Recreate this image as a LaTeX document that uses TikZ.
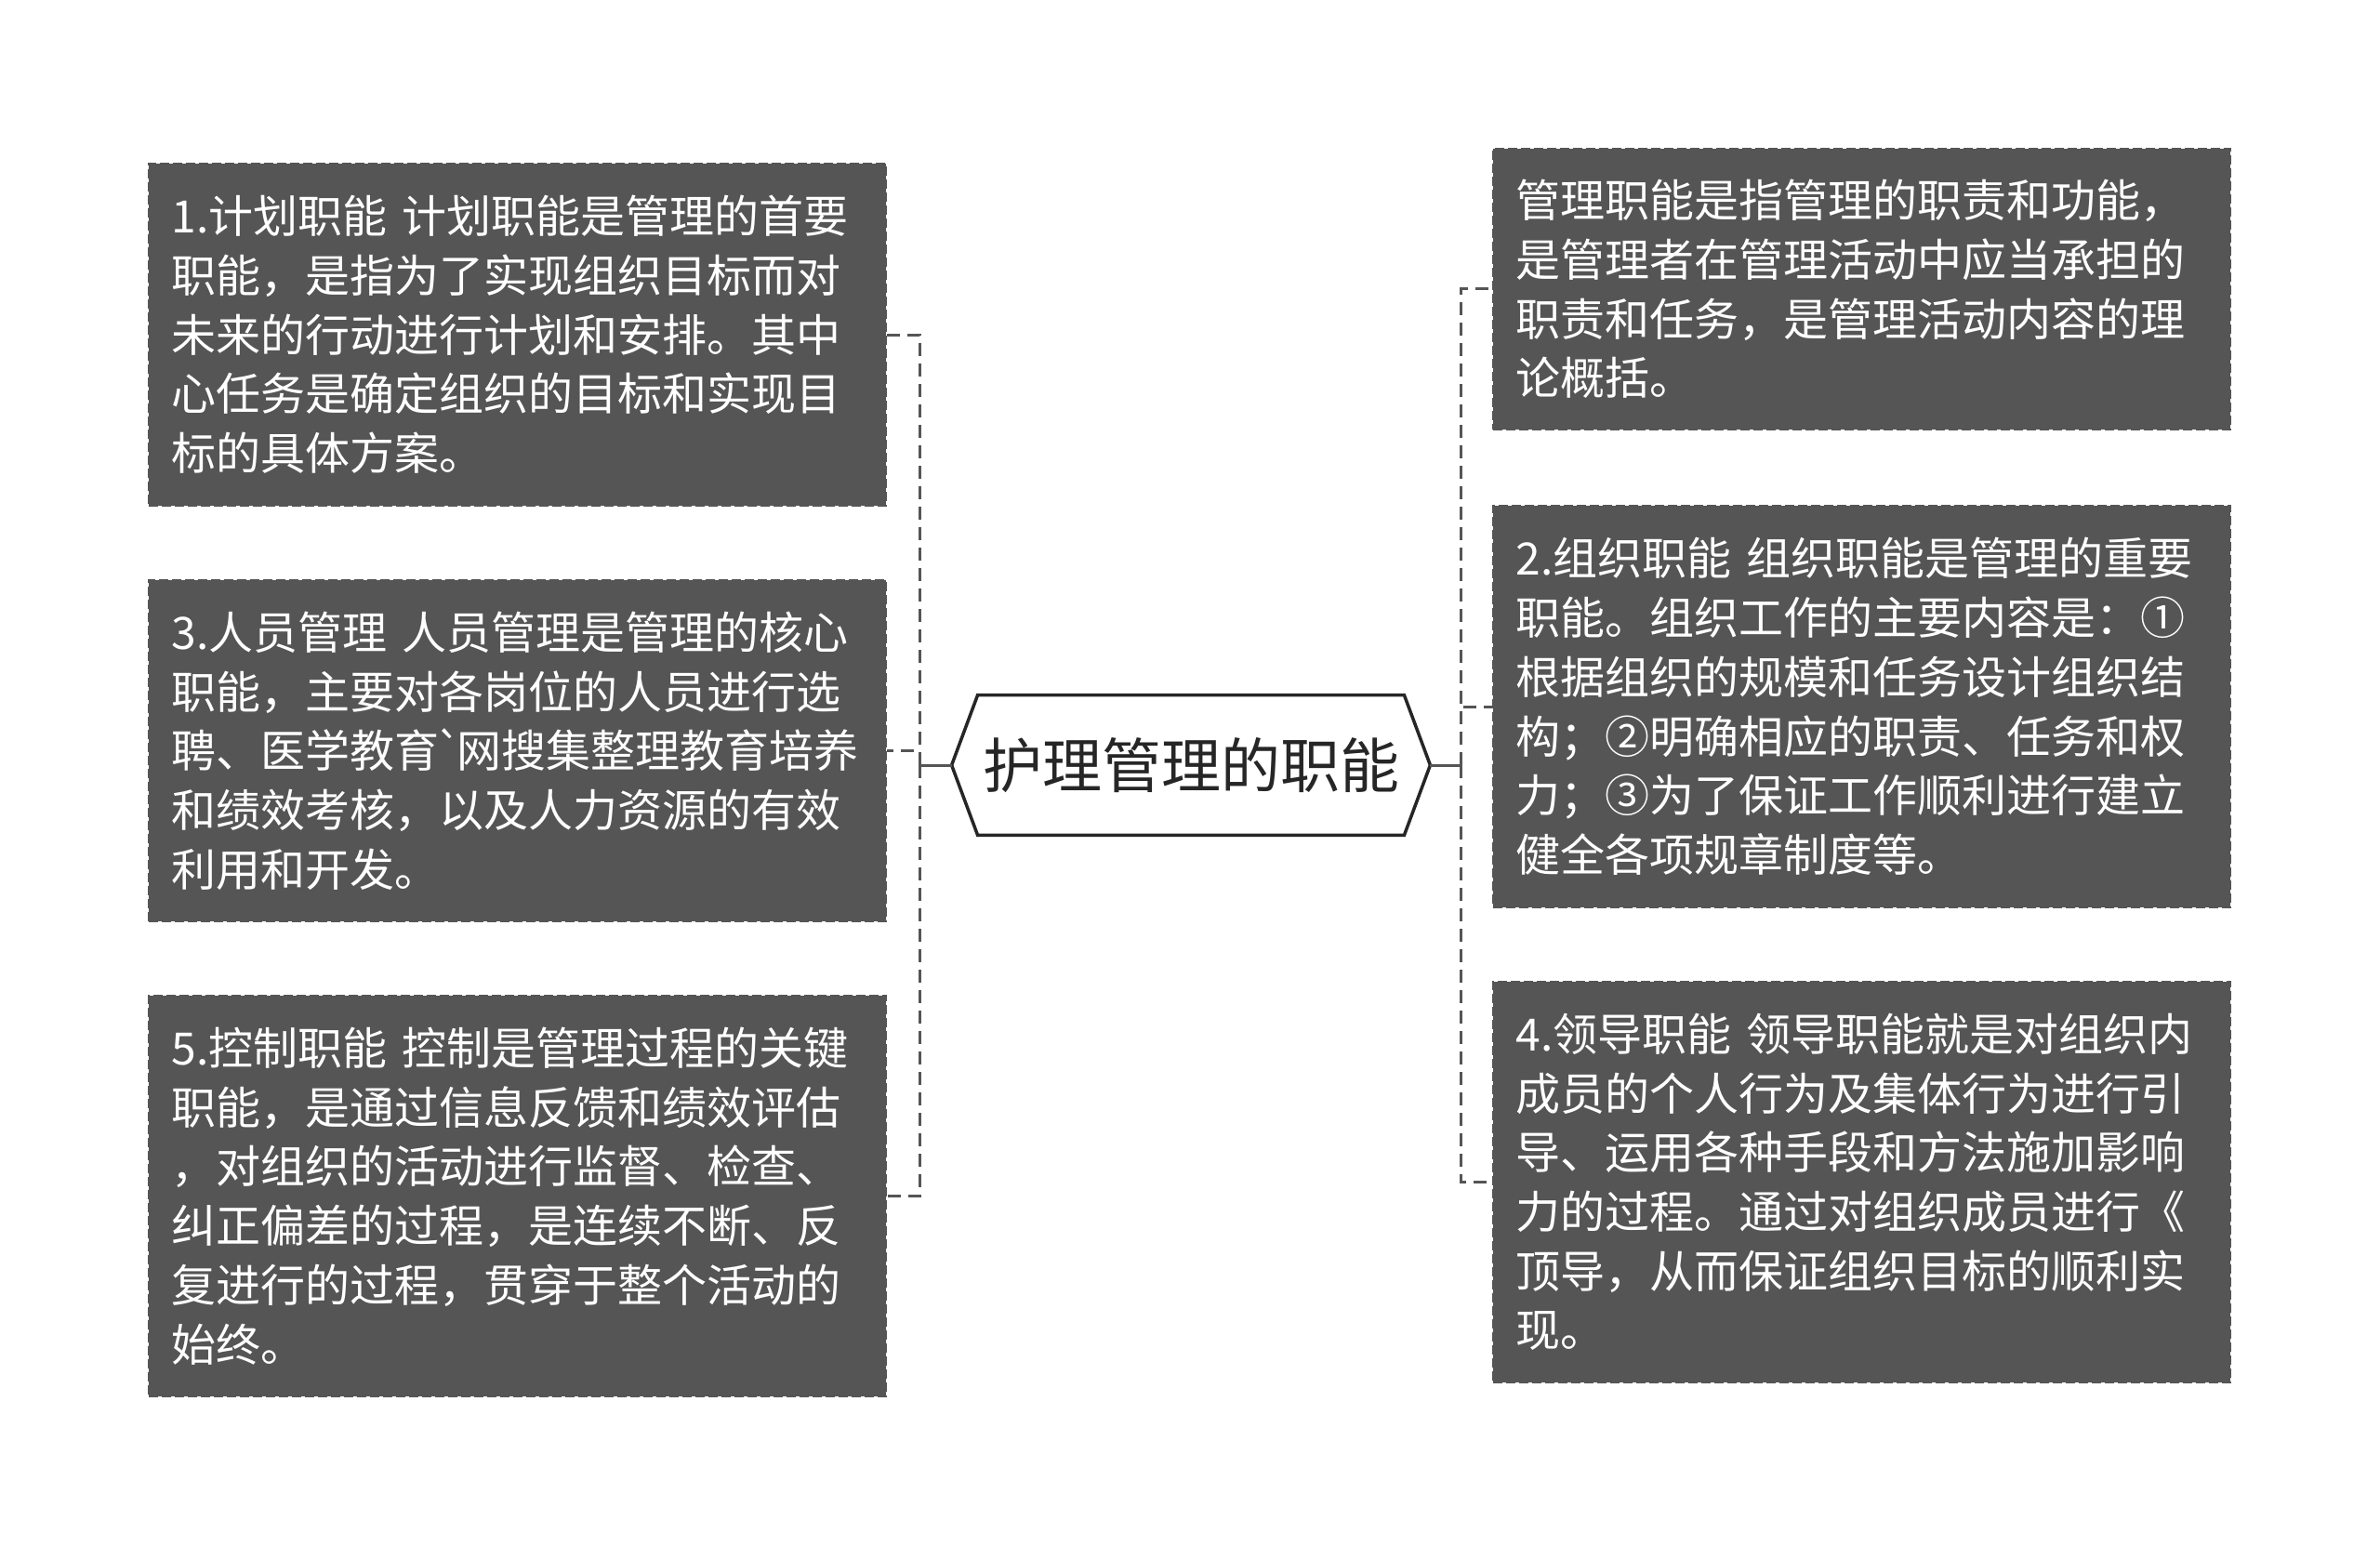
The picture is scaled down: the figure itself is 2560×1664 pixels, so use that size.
\documentclass[tikz,border=0pt]{standalone}
\usepackage{fontspec}
\newfontfamily\cjk{Noto Sans CJK SC}
\definecolor{boxfill}{HTML}{555555}
\definecolor{linec}{HTML}{555555}
\definecolor{rootc}{HTML}{262626}
\tikzset{
  leaf/.style={fill=boxfill, draw=boxfill, dashed, dash pattern=on 5pt off 2pt, line width=1pt,
    text=white, font=\cjk\fontsize{24}{31.85}\selectfont, align=left,
    text width=372pt, inner xsep=12.25pt, inner ysep=0pt, minimum width=396.5pt, anchor=center},
  solidc/.style={draw=linec, line width=1.5pt},
  dashc/.style={draw=linec, line width=1.5pt, dash pattern=on 7pt off 4pt},
  rootnode/.style={inner sep=0pt, minimum width=257pt, minimum height=75pt,
    font=\cjk\fontsize{32}{38}\selectfont, text=rootc}
}
\begin{document}
\begin{tikzpicture}[x=0.5pt,y=-0.5pt]
\useasboundingbox (0,0) rectangle (2560,1664);

% root
\node[rootnode] (root) at (1281,823) {护理管理的职能};
\draw[draw=rootc, line width=1.75pt, line join=miter]
  (root.west) -- ([xshift=14pt]root.north west) -- ([xshift=-14pt]root.north east)
  -- (root.east) -- ([xshift=-14pt]root.south east) -- ([xshift=14pt]root.south west) -- cycle;

% left boxes
\node[leaf, minimum height=184pt] (L1) at (556.5,360) {1.计划职能 计划职能是管理的首要\\职能，是指为了实现组织目标而对\\未来的行动进行计划和安排。其中\\心任务是确定组织的目标和实现目\\标的具体方案。};
\node[leaf, minimum height=183.5pt] (L3) at (556.5,807.5) {3.人员管理 人员管理是管理的核心\\职能，主要对各岗位的人员进行选\\聘、医学教育\kern-2pt{\char96}\kern-3pt网搜集整理教育培养\\和绩效考核，以及人力资源的有效\\利用和开发。};
\node[leaf, minimum height=215.5pt] (L5) at (556.5,1286.5) {5.控制职能 控制是管理过程的关键\\职能，是通过信息反馈和绩效评估\\，对组织的活动进行监督、检查、\\纠正偏差的过程，是连续不断、反\\复进行的过程，贯穿于整个活动的\\始终。};

% right boxes
\node[leaf, minimum height=151pt] (R0) at (2002.5,311) {管理职能是指管理的职责和功能，\\是管理者在管理活动中应当承担的\\职责和任务，是管理活动内容的理\\论概括。};
\node[leaf, minimum height=216pt] (R2) at (2002.5,760) {2.组织职能 组织职能是管理的重要\\职能。组织工作的主要内容是：①\\根据组织的规模和任务设计组织结\\构；②明确相应的职责、任务和权\\力；③为了保证工作顺利进行建立\\健全各项规章制度等。};
\node[leaf, minimum height=215.5pt] (R4) at (2002.5,1271.5) {4.领导职能 领导职能就是对组织内\\成员的个人行为及集体行为进行引\\导、运用各种手段和方法施加影响\\力的过程。通过对组织成员进行《\\顶导，从而保证组织目标的顺利实\\现。};

% spines
\coordinate (lsp) at (989,823);
\coordinate (rsp) at (1571,823);
\draw[solidc] (root.west) -- (lsp);
\draw[solidc] (root.east) -- (rsp);
\draw[dashc] (lsp) |- (L1.east);
\draw[dashc] (lsp) |- (L3.east);
\draw[dashc] (lsp) |- (L5.east);
\draw[dashc] (rsp) |- (R0.west);
\draw[dashc] (rsp) |- (R2.west);
\draw[dashc] (rsp) |- (R4.west);
\end{tikzpicture}
\end{document}
